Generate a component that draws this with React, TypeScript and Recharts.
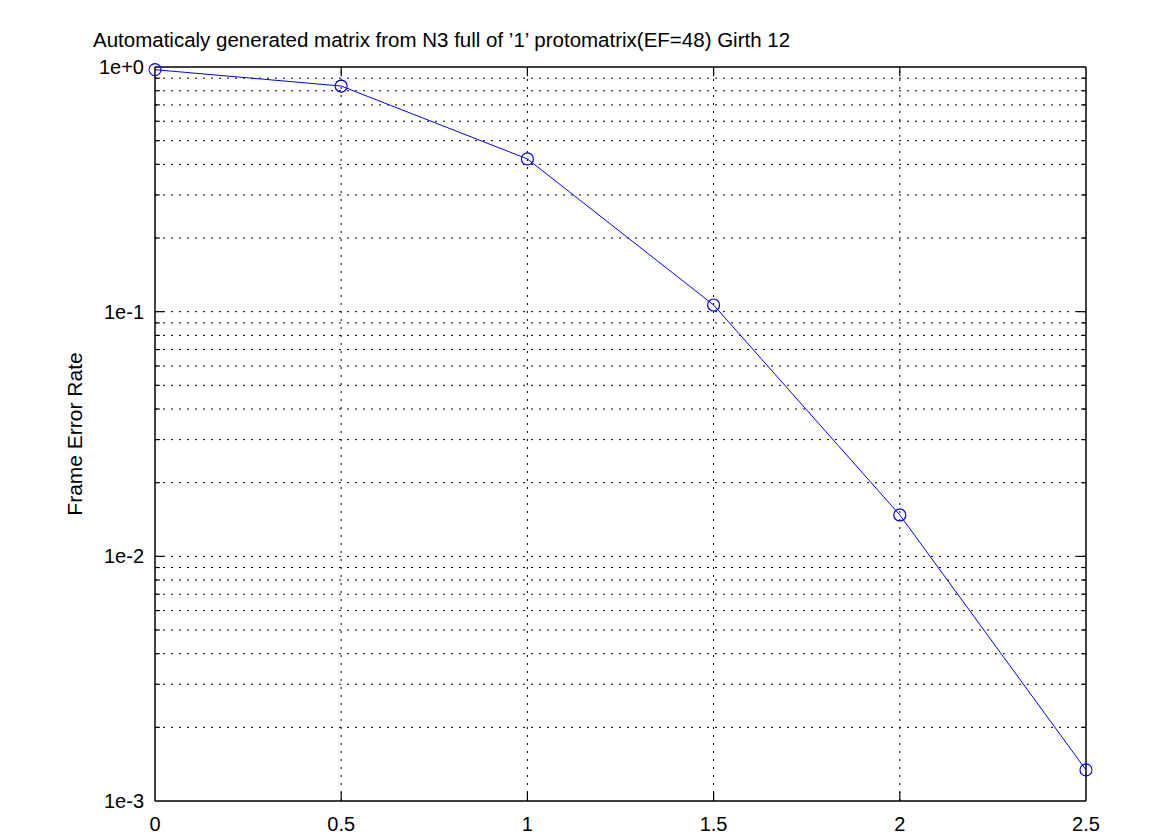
import React from "react";
import {
  LineChart,
  Line,
  XAxis,
  YAxis,
  ReferenceLine,
} from "recharts";

// SNR points (x) and frame error rate (y)
const snr = [0, 0.5, 1, 1.5, 2, 2.5];
const fer = [0.975, 0.836, 0.421, 0.1065, 0.01476, 0.00134];

const xTicks = [0, 0.5, 1, 1.5, 2, 2.5];
const yTicks = [0.001, 0.01, 0.1, 1];
const yTickLabels = ["1e-3", "1e-2", "1e-1", "1e+0"];

// dotted grid rows (minor decades + inner majors)
const gridRows = [
  0.002, 0.003, 0.004, 0.005, 0.006, 0.007, 0.008, 0.009,
  0.01, 0.02, 0.03, 0.04, 0.05, 0.06, 0.07, 0.08, 0.09,
  0.1, 0.2, 0.3, 0.4, 0.5, 0.6, 0.7, 0.8, 0.9,
];
const gridCols = [0.5, 1, 1.5, 2];

const title =
  "Automaticaly generated matrix from N3 full of \u20191\u2019 protomatrix(EF=48) Girth 12";

const data = snr.map((x, i) => ({ snr: x, fer: fer[i] }));

const FONT = "'Liberation Sans', Arial, Helvetica, sans-serif";
const BLUE = "#0000ff";

// tick lengths expressed in axis units
const majorTickX = 0.024;
const minorTickX = 0.013;

export default function App() {
  return (
    <div
      style={{
        position: "absolute",
        left: 0,
        top: 0,
        width: 1175,
        height: 835,
        background: "#fff",
        fontFamily: FONT,
        overflow: "hidden",
      }}
    >
      <div
        style={{
          position: "absolute",
          left: 93,
          top: 28,
          fontSize: 20.5,
          color: "#000",
          whiteSpace: "nowrap",
        }}
      >
        {title}
      </div>
      <div
        style={{
          position: "absolute",
          left: 75,
          top: 434,
          fontSize: 21,
          color: "#000",
          whiteSpace: "nowrap",
          transform: "translate(-50%, -50%) rotate(-90deg)",
        }}
      >
        Frame Error Rate
      </div>

      <LineChart
        width={1175}
        height={835}
        data={data}
        margin={{ top: 67, right: 89, left: 95, bottom: 4 }}
        style={{ position: "absolute", left: 0, top: 0 }}
      >
        <XAxis
          dataKey="snr"
          type="number"
          domain={[0, 2.5]}
          ticks={xTicks}
          height={30}
          tickLine={false}
          tickMargin={10}
          axisLine={{ stroke: "#000", strokeWidth: 1.5 }}
          tick={{ fill: "#000", fontSize: 20, fontFamily: FONT }}
          allowDataOverflow
        />
        <YAxis
          type="number"
          scale="log"
          domain={[0.001, 1]}
          ticks={yTicks}
          width={60}
          tickLine={false}
          tickMargin={5}
          axisLine={{ stroke: "#000", strokeWidth: 1.5 }}
          tick={{ fill: "#000", fontSize: 20, fontFamily: FONT }}
          tickFormatter={(v: number) => yTickLabels[yTicks.indexOf(v)] ?? String(v)}
          allowDataOverflow
        />

        {gridRows.map((v) => (
          <ReferenceLine
            key={"r" + v}
            y={v}
            stroke="#000"
            strokeWidth={1}
            strokeDasharray="2 6"
          />
        ))}
        {gridCols.map((v) => (
          <ReferenceLine
            key={"c" + v}
            x={v}
            stroke="#000"
            strokeWidth={1}
            strokeDasharray="2 6"
          />
        ))}

        {/* inward ticks on left and right */}
        {gridRows.map((v) => {
          const len = yTicks.includes(v) ? majorTickX : minorTickX;
          return (
            <React.Fragment key={"t" + v}>
              <ReferenceLine
                segment={[
                  { x: 0, y: v },
                  { x: len, y: v },
                ]}
                stroke="#000"
                strokeWidth={1.2}
              />
              <ReferenceLine
                segment={[
                  { x: 2.5 - len, y: v },
                  { x: 2.5, y: v },
                ]}
                stroke="#000"
                strokeWidth={1.2}
              />
            </React.Fragment>
          );
        })}
        {/* inward ticks on bottom and top */}
        {gridCols.map((v) => (
          <React.Fragment key={"b" + v}>
            <ReferenceLine
              segment={[
                { x: v, y: 0.001 },
                { x: v, y: 0.00109 },
              ]}
              stroke="#000"
              strokeWidth={1.2}
            />
            <ReferenceLine
              segment={[
                { x: v, y: 1 },
                { x: v, y: 0.917 },
              ]}
              stroke="#000"
              strokeWidth={1.2}
            />
          </React.Fragment>
        ))}

        {/* box top and right */}
        <ReferenceLine y={1} stroke="#000" strokeWidth={1.5} />
        <ReferenceLine x={2.5} stroke="#000" strokeWidth={1.5} />

        <Line
          type="linear"
          dataKey="fer"
          stroke={BLUE}
          strokeWidth={1}
          dot={{ r: 6, stroke: BLUE, strokeWidth: 1.2, fill: "none", clipDot: false }}
          activeDot={false}
          isAnimationActive={false}
        />
      </LineChart>
    </div>
  );
}
